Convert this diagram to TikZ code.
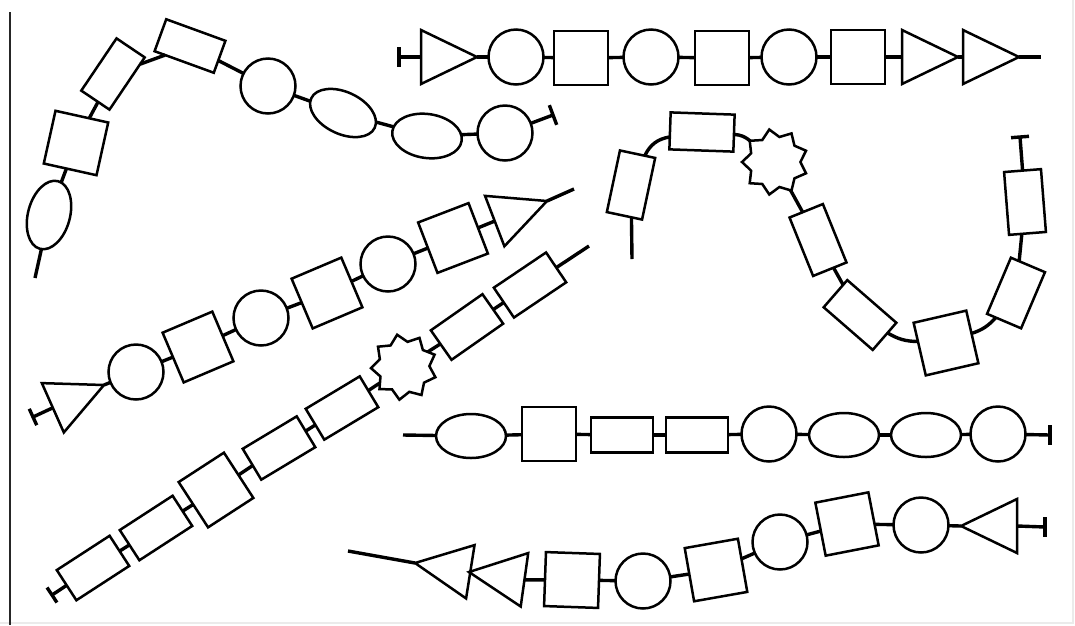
\documentclass[tikz,border=0pt]{standalone}
\usetikzlibrary{shapes.geometric,calc}
\begin{document}
\begin{tikzpicture}[x=1pt,y=1pt,
 shp/.style={draw, fill=white, line width=2.5pt, inner sep=0pt, outer sep=0pt},
 sq/.style={shp, rectangle, minimum width=54pt, minimum height=54pt},
 rc/.style={shp, rectangle, minimum width=63pt, minimum height=36pt},
 cir/.style={shp, circle, minimum size=55pt},
 ell/.style={shp, ellipse, minimum width=70pt, minimum height=44pt},
 tri/.style={shp, isosceles triangle, isosceles triangle stretches, minimum width=54pt, minimum height=56pt, anchor=apex},
 stn/.style={shp, star, star points=9, star point ratio=1.3, minimum size=66pt},
 lnk/.style={line width=3.4pt},
 barline/.style={line width=3.4pt}]
\useasboundingbox (0,0) rectangle (1075,-625);
\draw[black!8, line width=1.5pt] (0,-623) -- (1073,-623) -- (1073,0);
\draw[black!85, line width=2.5pt] (10,-12) -- (10,-625);

% ---- chain A (top-left curve)
\coordinate (A0) at (35,-278);
\node[ell, rotate=75, minimum height=42pt] (A1) at (49,-215) {};
\node[sq, rotate=-12.5] (A2) at (76,-143) {};
\node[rc, rotate=56, minimum height=34pt] (A3) at (113,-74) {};
\node[rc, rotate=-20, minimum height=34pt] (A4) at (190,-46) {};
\node[cir] (A5) at (268,-86) {};
\node[ell, rotate=-25, minimum height=42pt] (A6) at (343,-113) {};
\node[ell, rotate=-8] (A7) at (427,-136) {};
\node[cir] (A8) at (505,-133) {};
\coordinate (A9) at (553,-115);
\foreach \a/\b in {A0/A1,A1/A2,A2/A3,A3/A4,A4/A5,A5/A6,A6/A7,A7/A8,A8/A9}
  \draw[lnk] (\a) -- (\b);
\draw[barline] ($(A9)!10.5pt!90:(A8)$) -- ($(A9)!10.5pt!-90:(A8)$);

% ---- chain B (top straight row)
\coordinate (B0) at (399,-57);
\node[tri] (B1) at (477,-57) {};
\node[cir] (B2) at (516,-57) {};
\node[sq] (B3) at (581,-58) {};
\node[cir] (B4) at (651,-57) {};
\node[sq] (B5) at (722,-58) {};
\node[cir] (B6) at (789,-57) {};
\node[sq] (B7) at (858,-57) {};
\node[tri] (B8) at (958,-57) {};
\node[tri] (B9) at (1019,-57) {};
\coordinate (B10) at (1041,-57);
\draw[lnk] (B0) -- (B1.lower side);
\draw[lnk] (B1.apex) -- (B2);
\foreach \a/\b in {B2/B3,B3/B4,B4/B5,B5/B6,B6/B7}
  \draw[lnk] (\a) -- (\b);
\draw[lnk] (B7) -- (B8.lower side);
\draw[lnk] (B8.apex) -- (B9.lower side);
\draw[lnk] (B9.apex) -- (B10);
\draw[barline] ($(B0)+(0,10)$) -- ($(B0)+(0,-10)$);

% ---- chain C (S-curve)
\coordinate (C0) at (632,-259);
\node[rc, rotate=78] (C1) at (631,-185) {};
\node[rc, rotate=-2, minimum width=64pt, minimum height=37pt] (C2) at (702,-132) {};
\node[stn, rotate=10] (C3) at (775,-162) {};
\node[rc, rotate=112] (C4) at (818,-240) {};
\node[rc, rotate=-41, minimum width=65pt] (C5) at (860,-315) {};
\node[sq, rotate=13] (C6) at (946,-343) {};
\node[rc, rotate=67, minimum width=61pt, minimum height=37pt] (C7) at (1016,-293) {};
\node[rc, rotate=94.5, minimum height=37pt] (C8) at (1025,-202) {};
\coordinate (C9) at (1020,-137);
\draw[lnk] (C0) -- (C1);
\draw[lnk] (C1) to[bend left=28] (C2);
\draw[lnk] (C2) to[bend left=18] (C3);
\draw[lnk] (C3) -- (C4);
\draw[lnk] (C4) -- (C5);
\draw[lnk] (C5) to[bend right=15] (C6);
\draw[lnk] (C6) to[bend right=15] (C7);
\draw[lnk] (C7) -- (C8);
\draw[lnk] (C8) -- (C9);
\draw[barline] ($(C9)!9pt!90:(C8)$) -- ($(C9)!9pt!-90:(C8)$);

% ---- chain D (upper diagonal)
\coordinate (D0) at (33,-417);
\node[tri, rotate=24] (D1) at (104,-385) {};
\node[cir] (D2) at (136,-372) {};
\node[sq, rotate=23] (D3) at (198,-347) {};
\node[cir] (D4) at (261,-318) {};
\node[sq, rotate=23] (D5) at (327,-293) {};
\node[cir] (D6) at (388,-264) {};
\node[sq, rotate=21] (D7) at (453,-238) {};
\node[tri, rotate=21] (D8) at (547,-201) {};
\coordinate (D9) at (574,-189);
\draw[lnk] (D0) -- (D1.lower side);
\draw[lnk] (D1.apex) -- (D2);
\foreach \a/\b in {D2/D3,D3/D4,D4/D5,D5/D6,D6/D7}
  \draw[lnk] (\a) -- (\b);
\draw[lnk] (D7) -- (D8.lower side);
\draw[lnk] (D8.apex) -- (D9);
\draw[barline] ($(D0)!9pt!90:(D1)$) -- ($(D0)!9pt!-90:(D1)$);

% ---- chain E (lower diagonal)
\coordinate (E0) at (52,-595);
\node[rc, rotate=33] (E1) at (93,-568) {};
\node[rc, rotate=33] (E2) at (156,-528) {};
\node[sq, rotate=33] (E3) at (216,-490) {};
\node[rc, rotate=31] (E4) at (279,-448) {};
\node[rc, rotate=31] (E5) at (342,-408) {};
\node[stn, rotate=12] (E6) at (404,-367) {};
\node[rc, rotate=35] (E7) at (467,-327) {};
\node[rc, rotate=34] (E8) at (530,-285) {};
\coordinate (E9) at (589,-246);
\foreach \a/\b in {E0/E1,E1/E2,E2/E3,E3/E4,E4/E5,E5/E6,E6/E7,E7/E8,E8/E9}
  \draw[lnk] (\a) -- (\b);
\draw[barline] ($(E0)!9pt!90:(E1)$) -- ($(E0)!9pt!-90:(E1)$);

% ---- chain F (lower straight row)
\coordinate (F0) at (403,-435);
\node[ell] (F1) at (471,-436) {};
\node[sq] (F2) at (549,-434) {};
\node[rc, minimum width=62pt, minimum height=35pt] (F3) at (622,-435) {};
\node[rc, minimum width=62pt, minimum height=35pt] (F4) at (697,-435) {};
\node[cir] (F5) at (769,-434) {};
\node[ell] (F6) at (844,-435) {};
\node[ell] (F7) at (926,-435) {};
\node[cir] (F8) at (998,-434) {};
\coordinate (F9) at (1050,-435);
\foreach \a/\b in {F0/F1,F1/F2,F2/F3,F3/F4,F4/F5,F5/F6,F6/F7,F7/F8,F8/F9}
  \draw[lnk] (\a) -- (\b);
\draw[barline] ($(F9)+(0,10)$) -- ($(F9)+(0,-10)$);

% ---- chain G (bottom curve)
\coordinate (G0) at (348,-551);
\node[tri, rotate=171] (G1) at (415,-563) {};
\node[tri, rotate=172] (G2) at (469,-572) {};
\node[sq, rotate=-2] (G3) at (572,-580) {};
\node[cir] (G4) at (643,-581) {};
\node[sq, rotate=10] (G5) at (716,-570) {};
\node[cir] (G6) at (780,-542) {};
\node[sq, rotate=11] (G7) at (847,-524) {};
\node[cir] (G8) at (921,-525) {};
\node[tri, rotate=180] (G9) at (961,-526) {};
\coordinate (G10) at (1045,-527);
\draw[lnk] (G0) -- (G1.apex);
\draw[lnk] (G2.apex) -- (G1);
\draw[lnk] (G2.lower side) -- (G3);
\foreach \a/\b in {G3/G4,G4/G5,G5/G6,G6/G7,G7/G8}
  \draw[lnk] (\a) -- (\b);
\draw[lnk] (G8) -- (G9.apex);
\draw[lnk] (G9.lower side) -- (G10);
\draw[barline] ($(G10)+(0,10)$) -- ($(G10)+(0,-10)$);
\end{tikzpicture}
\end{document}
